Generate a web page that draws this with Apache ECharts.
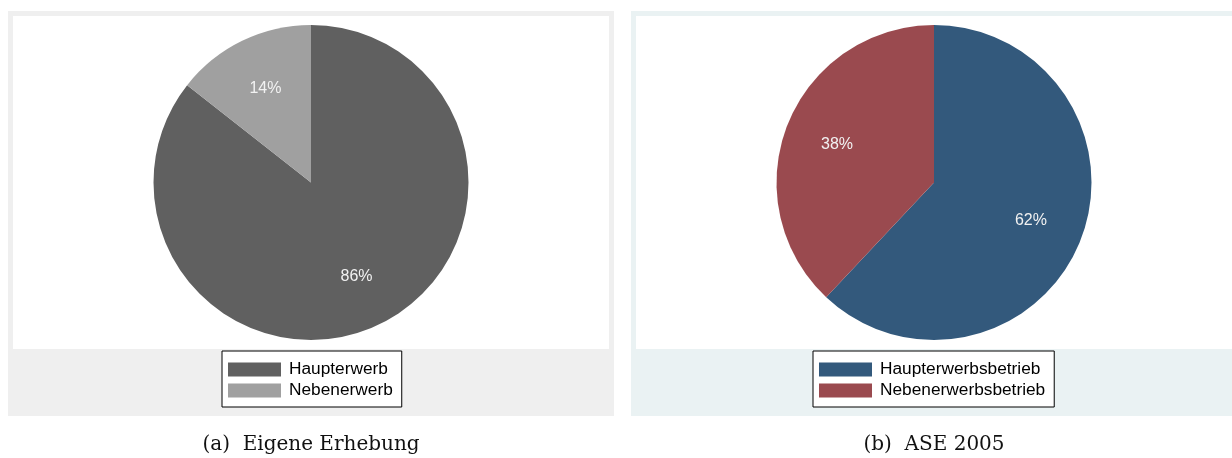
<!DOCTYPE html>
<html>
<head>
<meta charset="utf-8">
<script src="https://cdn.jsdelivr.net/npm/echarts@6/dist/echarts.min.js"></script>
<style>
html,body{margin:0;padding:0;background:#ffffff;}
#chart{width:1232px;height:458px;}
</style>
</head>
<body>
<div id="chart"></div>
<script>
// ---- data ----
const categoriesA = ['Haupterwerb', 'Nebenerwerb'];
const valuesA = [85.6, 14.4];
const categoriesB = ['Haupterwerbsbetrieb', 'Nebenerwerbsbetrieb'];
const valuesB = [62, 38];
const captionA = '(a)  Eigene Erhebung';
const captionB = '(b)  ASE 2005';

// ---- styles ----
const colorsA = ['#606060', '#a0a0a0'];
const colorsB = ['#33597c', '#9a4a4f'];

function build(cats, vals, cols) {
  return cats.map((c, i) => ({ name: c, value: vals[i], itemStyle: { color: cols[i] } }));
}
function pct(p) { return Math.round(p.percent) + '%'; }

const chart = echarts.init(document.getElementById('chart'), null, { renderer: 'canvas' });

const legendCommon = {
  orient: 'vertical',
  backgroundColor: '#ffffff',
  borderColor: '#000000',
  borderWidth: 1,
  borderRadius: 0,
  padding: [10, 9, 8, 6],
  itemWidth: 53,
  itemHeight: 14,
  itemGap: 4,
  icon: 'rect',
  selectedMode: false,
  textStyle: { fontFamily: 'Liberation Sans, Arial, sans-serif', fontSize: 17.3, color: '#000000', lineHeight: 14, padding: [0, 0, 0, 3] }
};

const labelCommon = {
  show: true,
  position: 'inside',
  formatter: pct,
  color: '#f2f2f2',
  fontFamily: 'Liberation Sans, Arial, sans-serif',
  fontSize: 16
};

const option = {
  animation: false,
  backgroundColor: '#ffffff',
  graphic: [
    { type: 'rect', z: -10, shape: { x: 8, y: 11, width: 606, height: 405 }, style: { fill: '#efefef' }, silent: true },
    { type: 'rect', z: -9, shape: { x: 13, y: 16, width: 596, height: 333 }, style: { fill: '#ffffff' }, silent: true },
    { type: 'rect', z: -10, shape: { x: 631, y: 11, width: 606, height: 405 }, style: { fill: '#eaf2f3' }, silent: true },
    { type: 'rect', z: -9, shape: { x: 636, y: 16, width: 596, height: 333 }, style: { fill: '#ffffff' }, silent: true }
  ],
  title: [
    { text: captionA, left: 311, top: 435, textAlign: 'center', padding: 0,
      textStyle: { fontFamily: 'DejaVu Serif, serif', fontWeight: 'normal', fontSize: 20, color: '#111111' } },
    { text: captionB, left: 934, top: 435, textAlign: 'center', padding: 0,
      textStyle: { fontFamily: 'DejaVu Serif, serif', fontWeight: 'normal', fontSize: 20, color: '#111111' } }
  ],
  legend: [
    Object.assign({}, legendCommon, { left: 222, top: 351, data: categoriesA }),
    Object.assign({}, legendCommon, { left: 813, top: 351, data: categoriesB })
  ],
  series: [
    { type: 'pie', center: [311, 182.5], radius: [0, 157.5], startAngle: 90, clockwise: true,
      label: { show: false }, labelLine: { show: false }, silent: true,
      data: build(categoriesA, valuesA, colorsA) },
    { type: 'pie', center: [311, 182.5], radius: [45, 157.5], startAngle: 90, clockwise: true,
      itemStyle: { color: 'transparent' }, label: labelCommon, labelLine: { show: false }, silent: true,
      data: categoriesA.map((c, i) => ({ name: c, value: valuesA[i], itemStyle: { color: 'rgba(0,0,0,0)' } })) },
    { type: 'pie', center: [934, 182.5], radius: [0, 157.5], startAngle: 90, clockwise: true,
      label: { show: false }, labelLine: { show: false }, silent: true,
      data: build(categoriesB, valuesB, colorsB) },
    { type: 'pie', center: [934, 182.5], radius: [45, 157.5], startAngle: 90, clockwise: true,
      itemStyle: { color: 'transparent' }, label: labelCommon, labelLine: { show: false }, silent: true,
      data: categoriesB.map((c, i) => ({ name: c, value: valuesB[i], itemStyle: { color: 'rgba(0,0,0,0)' } })) }
  ]
};
chart.setOption(option);
</script>
</body>
</html>
